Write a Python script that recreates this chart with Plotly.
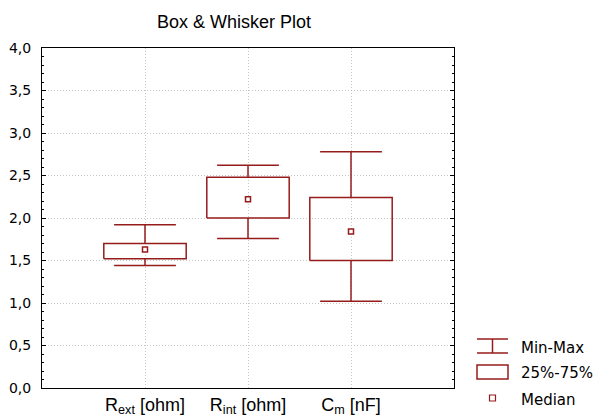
import plotly.graph_objects as go

# Summary statistics per variable
categories = ["R<sub>ext</sub> [ohm]", "R<sub>int</sub> [ohm]", "C<sub>m</sub> [nF]"]
minimum = [1.44, 1.76, 1.02]
q1 = [1.52, 2.00, 1.50]
median = [1.63, 2.22, 1.84]
q3 = [1.70, 2.48, 2.24]
maximum = [1.92, 2.62, 2.78]
y_ticks = [0.0, 0.5, 1.0, 1.5, 2.0, 2.5, 3.0, 3.5, 4.0]

COLOR = "#961c1c"
BOX_HALF = 0.4
CAP_HALF = 0.3
positions = list(range(1, len(categories) + 1))

W, H = 597, 416
M_L, M_R, M_T, M_B = 42, 143, 48, 28
PLOT_W = W - M_L - M_R
PLOT_H = H - M_T - M_B


def px_x(px):
    return (px - M_L) / PLOT_W


def px_y(py):
    return (H - M_B - py) / PLOT_H


# 25%-75% boxes
box_x, box_y = [], []
for p, lo, hi in zip(positions, q1, q3):
    box_x += [p - BOX_HALF, p + BOX_HALF, p + BOX_HALF, p - BOX_HALF, p - BOX_HALF, None]
    box_y += [lo, lo, hi, hi, lo, None]

# Min-Max whiskers with caps
wh_x, wh_y = [], []
for p, mn, b1, b3, mx in zip(positions, minimum, q1, q3, maximum):
    wh_x += [p, p, None, p - CAP_HALF, p + CAP_HALF, None,
             p, p, None, p - CAP_HALF, p + CAP_HALF, None]
    wh_y += [b3, mx, None, mx, mx, None,
             b1, mn, None, mn, mn, None]

fig = go.Figure()
fig.add_trace(go.Scatter(x=wh_x, y=wh_y, mode="lines",
                         line=dict(color=COLOR, width=1.5), hoverinfo="skip"))
fig.add_trace(go.Scatter(x=box_x, y=box_y, mode="lines",
                         line=dict(color=COLOR, width=1.5), hoverinfo="skip"))
fig.add_trace(go.Scatter(x=positions, y=median, mode="markers",
                         marker=dict(symbol="square", size=5, color="white",
                                     line=dict(color=COLOR, width=1.5))))

grid = "#c8c8c8"
grid_dash = "1px,2px"
fig.update_layout(
    width=W, height=H,
    margin=dict(l=M_L, r=M_R, t=M_T, b=M_B),
    paper_bgcolor="white", plot_bgcolor="white",
    showlegend=False,
    separators=",.",
    font=dict(family="Liberation Sans, Arial, sans-serif", color="black"),
    xaxis=dict(range=[0, 4], tickvals=positions, ticktext=categories,
               showgrid=True, gridcolor=grid, griddash=grid_dash, gridwidth=1,
               showline=True, linecolor="black", linewidth=1, mirror=True,
               ticks="", zeroline=False, automargin=False,
               tickfont=dict(family="Liberation Sans, Arial", size=18, color="black")),
    yaxis=dict(range=[0, 4], tickvals=y_ticks, tickformat=".1f",
               showgrid=True, gridcolor=grid, griddash=grid_dash, gridwidth=1,
               showline=True, linecolor="black", linewidth=1, mirror="ticks",
               ticks="inside", ticklen=4, tickcolor="black", zeroline=False,
               ticklabelstandoff=7, automargin=False,
               minor=dict(dtick=0.1, ticks="inside", ticklen=2, tickcolor="black",
                          showgrid=False),
               tickfont=dict(family="DejaVu Sans", size=14, color="black")),
)

# Title
fig.add_annotation(text="Box & Whisker Plot", xref="paper", yref="paper",
                   x=px_x(233.5), y=px_y(22), xanchor="center", yanchor="middle",
                   showarrow=False,
                   font=dict(family="Liberation Sans, Arial", size=18, color="black"))

# Legend
lx0, lx1 = 477, 508
lxm = (lx0 + lx1) / 2
line = dict(color=COLOR, width=1.5)
fig.add_shape(type="line", xref="paper", yref="paper",
              x0=px_x(lx0), x1=px_x(lx1), y0=px_y(339), y1=px_y(339), line=line)
fig.add_shape(type="line", xref="paper", yref="paper",
              x0=px_x(lx0), x1=px_x(lx1), y0=px_y(353), y1=px_y(353), line=line)
fig.add_shape(type="line", xref="paper", yref="paper",
              x0=px_x(lxm), x1=px_x(lxm), y0=px_y(339), y1=px_y(353), line=line)
fig.add_shape(type="rect", xref="paper", yref="paper",
              x0=px_x(lx0), x1=px_x(lx1), y0=px_y(365), y1=px_y(379), line=line)
fig.add_shape(type="rect", xref="paper", yref="paper",
              x0=px_x(lxm - 3), x1=px_x(lxm + 3), y0=px_y(395), y1=px_y(401),
              line=dict(color=COLOR, width=1.2))

for label, cy in [("Min-Max", 347.5), ("25%-75%", 372.5), ("Median", 399.5)]:
    fig.add_annotation(text=label, xref="paper", yref="paper",
                       x=px_x(519), y=px_y(cy), xanchor="left", yanchor="middle",
                       showarrow=False,
                       font=dict(family="DejaVu Sans", size=15, color="black"))

fig.write_html("out.html")
